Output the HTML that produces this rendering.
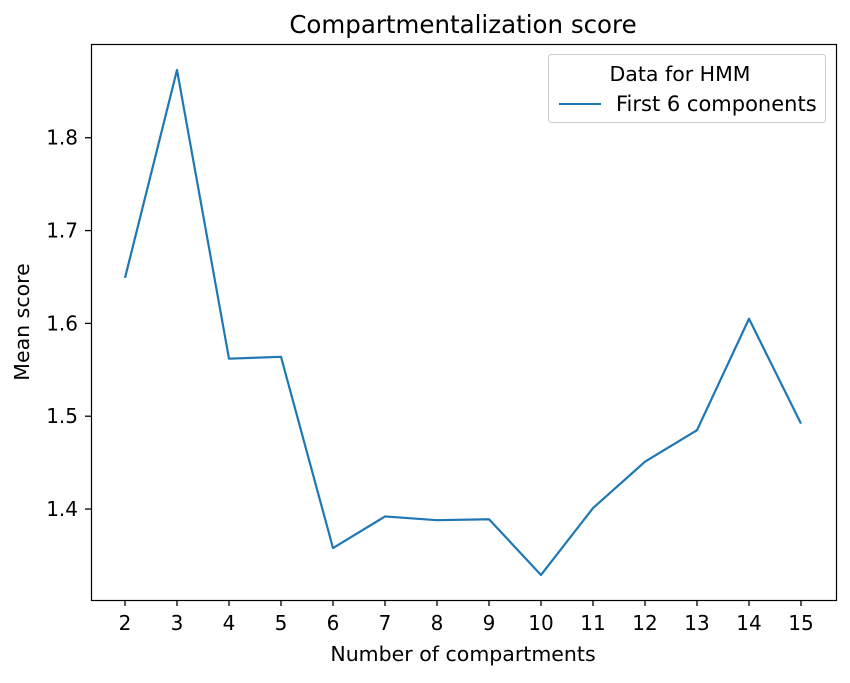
<!DOCTYPE html>
<html><head><meta charset="utf-8"><style>
body{margin:0;background:#fff;}
svg text{font-family:"DejaVu Sans","Liberation Sans",sans-serif;fill:#000;}
</style></head><body>
<svg id="chart" width="850" height="678" xmlns="http://www.w3.org/2000/svg">
<rect width="850" height="678" fill="#fff"/>
<text x="463" y="33" font-size="24.5" text-anchor="middle">Compartmentalization score</text>
<g id="axes"></g>
<text x="463" y="661" font-size="20.5" text-anchor="middle">Number of compartments</text>
<text transform="translate(29,322) rotate(-90)" font-size="20.5" text-anchor="middle">Mean score</text>
<g>
<rect x="548.5" y="54.5" width="277" height="68" rx="3" fill="#fff" stroke="#ccc"/>
<text x="680" y="81" font-size="20.5" text-anchor="middle">Data for HMM</text>
<line x1="559" y1="104" x2="601" y2="104" stroke="#1f77b4" stroke-width="2"/>
<text x="616" y="111" font-size="21">First 6 components</text>
</g>
</svg>
<script>
const categories=[2,3,4,5,6,7,8,9,10,11,12,13,14,15];
const seriesValues=[1.649,1.873,1.562,1.564,1.358,1.392,1.388,1.389,1.329,1.401,1.451,1.485,1.605,1.492];
const yTicks=[1.4,1.5,1.6,1.7,1.8];
const yTickLabels=["1.4","1.5","1.6","1.7","1.8"];
const L=91,R=836,T=44,B=600;
const yMin=1.302,yMax=1.901;
function xs(c){return 125+(c-2)*(801-125)/13;}
function ys(v){return B-(v-yMin)/(yMax-yMin)*(B-T);}
const NS="http://www.w3.org/2000/svg";
const g=document.getElementById('axes');
function mk(t,a,txt){const e=document.createElementNS(NS,t);for(const k in a)e.setAttribute(k,a[k]);if(txt!==undefined)e.textContent=txt;g.appendChild(e);return e;}
categories.forEach(c=>{
 const x=xs(c);
 const t=mk('line',{x1:x,y1:B,x2:x,y2:B+6,stroke:'#000','stroke-width':1.3});
 
 
 const l=mk('text',{x:x,y:B+30,'font-size':20,'text-anchor':'middle'},String(c));
 
 
});
yTicks.forEach((v,i)=>{
 const y=ys(v);
 const t=mk('line',{x1:L-6,y1:y,x2:L,y2:y,stroke:'#000','stroke-width':1.3});
 
 
 const l=mk('text',{x:L-13,y:y+7,'font-size':20,'text-anchor':'end'},yTickLabels[i]);
 
 
});
const pts=categories.map((c,i)=>xs(c)+','+ys(seriesValues[i])).join(' ');
const line=mk('polyline',{points:pts,fill:'none',stroke:'#1f77b4','stroke-width':2.2,'stroke-linejoin':'round'});


const fr=mk('rect',{x:L+0.5,y:T+0.5,width:R-L,height:B-T,fill:'none',stroke:'#000','stroke-width':1.2});


</script>
</body></html>
